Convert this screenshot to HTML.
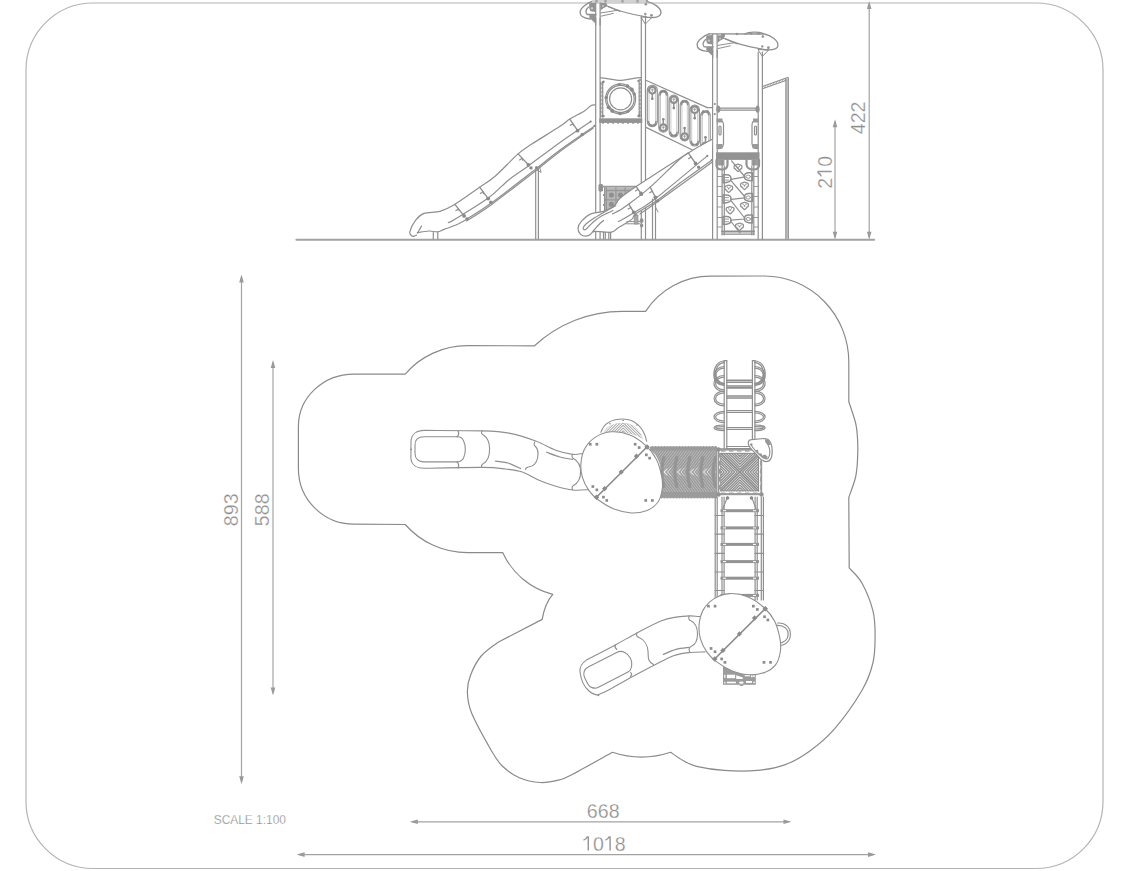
<!DOCTYPE html>
<html><head><meta charset="utf-8"><style>
html,body{margin:0;padding:0;background:#fff;width:1134px;height:871px;overflow:hidden}
svg{display:block}
text{font-family:"Liberation Sans",sans-serif}
</style></head><body>
<svg width="1134" height="871" viewBox="0 0 1134 871">
<g fill="none" stroke="#8f8f8f" stroke-width="1.2" stroke-linecap="round" stroke-linejoin="round">
<rect x="26" y="3" width="1077" height="865.5" rx="67" ry="67" stroke="#b4b4b4"/>
<path d="M298.4 426.4 A55.5 52.3 0 0 1 353.9 374.1 L405.2 374.1 A82 82 0 0 1 467.2 345.7 L534.5 345.8 A129 129 0 0 1 622.3 311.4 L645.6 311.4 A77.4 77.4 0 0 1 710.5 276.2 L764.4 276 A84.5 86 0 0 1 848.8 362 L848.8 401.7  C849.9 405.2 854.1 416.6 855.6 423 C857.1 429.4 857.3 434.2 857.6 440 C857.9 445.8 857.9 451.8 857.6 458 C857.3 464.2 857.1 470.4 855.6 477 C854.1 483.6 849.9 494.1 848.8 497.5 L849.2 567.9 C851.3 570.4 858 575.9 861.9 583 C865.8 590.1 870.7 601.9 872.9 610.6 C875.1 619.3 875.1 626.7 875.1 635.4 C875.1 644.1 875.1 653.8 872.9 663 C870.7 672.2 868.3 679.5 861.9 690.5 C855.5 701.5 843 719 834.3 729.1 C825.6 739.2 817.8 745.2 809.5 751.2 C801.2 757.2 793.4 761.7 784.7 764.9 C776 768.1 767.3 769.5 757.2 770.4 C747.1 771.3 734.2 771.1 724.1 770.4 C714 769.7 703.4 767.9 696.5 766.3 C689.6 764.6 687.3 762.8 683 760.5 C678.7 758.2 672.7 753.7 670.6 752.3 Q641.5 762 612.4 752.3 C605.7 756 581 769.9 572.2 774.5 C563.4 779.1 564.8 778.5 559.5 779.8 C554.2 781.1 547.1 782.9 540.4 782.5 C533.7 782.1 525.6 780.5 519.3 777.7 C512.9 775 506.9 770.4 502.3 766 C497.7 761.6 496.8 760 491.7 751.2 C486.6 742.4 475.7 723 471.6 713.1 C467.6 703.2 467.6 698.4 467.4 692 C467.2 685.6 468.3 681 470.6 675 C472.9 669 476.6 661.5 481.2 656 C485.8 650.5 495.3 644.5 498.1 642.2 L542.2 619.4 Q545 603 552.8 594.4 A75 75 0 0 1 502.8 552.7 L467.5 552.7 A83 83 0 0 1 405.2 524.5 L353.9 524.2 A55.5 55.5 0 0 1 298.4 468.6 Z" stroke="#8a8a8a"/>
<line x1="241.5" y1="277.5" x2="241.5" y2="781.2" stroke="#a3a3a3"/>
<path d="M241.5 274.5 L243.8 282.5 L239.2 282.5 Z" fill="#9a9a9a" stroke="none"/>
<path d="M241.5 784.2 L239.2 776.2 L243.8 776.2 Z" fill="#9a9a9a" stroke="none"/>
<line x1="273" y1="362.9" x2="273" y2="692.4" stroke="#a3a3a3"/>
<path d="M273 359.9 L275.3 367.9 L270.7 367.9 Z" fill="#9a9a9a" stroke="none"/>
<path d="M273 695.4 L270.7 687.4 L275.3 687.4 Z" fill="#9a9a9a" stroke="none"/>
<line x1="412.8" y1="821.8" x2="788.5" y2="821.8" stroke="#a3a3a3"/>
<path d="M409.8 821.8 L417.8 819.5 L417.8 824.1 Z" fill="#9a9a9a" stroke="none"/>
<path d="M791.5 821.8 L783.5 824.1 L783.5 819.5 Z" fill="#9a9a9a" stroke="none"/>
<line x1="299.6" y1="854.6" x2="873" y2="854.6" stroke="#a3a3a3"/>
<path d="M296.6 854.6 L304.6 852.3 L304.6 856.9 Z" fill="#9a9a9a" stroke="none"/>
<path d="M876 854.6 L868 856.9 L868 852.3 Z" fill="#9a9a9a" stroke="none"/>
<line x1="869.2" y1="4" x2="869.2" y2="236.7" stroke="#a3a3a3"/>
<path d="M869.2 1 L871.5 9 L866.9 9 Z" fill="#9a9a9a" stroke="none"/>
<path d="M869.2 239.7 L866.9 231.7 L871.5 231.7 Z" fill="#9a9a9a" stroke="none"/>
<line x1="835" y1="122.2" x2="835" y2="236.7" stroke="#a3a3a3"/>
<path d="M835 119.2 L837.3 127.2 L832.7 127.2 Z" fill="#9a9a9a" stroke="none"/>
<path d="M835 239.7 L832.7 231.7 L837.3 231.7 Z" fill="#9a9a9a" stroke="none"/>
<text x="603.2" y="817.9" font-size="19.6" fill="#8c8c8c" stroke="#fff" stroke-width="0.3" text-anchor="middle">668</text>
<path d="M588.3 850.6 l0 -13.6 l-1.2 0 c-0.6 1.6 -1.8 2.6 -3.6 3.1" fill="none" stroke="#969696" stroke-width="1.45" stroke-linecap="butt" stroke-linejoin="round"/>
<text x="593" y="850.6" font-size="19.6" fill="#8c8c8c" stroke="#fff" stroke-width="0.3">0</text>
<path d="M610.1 850.6 l0 -13.6 l-1.2 0 c-0.6 1.6 -1.8 2.6 -3.6 3.1" fill="none" stroke="#969696" stroke-width="1.45" stroke-linecap="butt" stroke-linejoin="round"/>
<text x="614.8" y="850.6" font-size="19.6" fill="#8c8c8c" stroke="#fff" stroke-width="0.3">8</text>
<text x="0" y="0" font-size="19.6" fill="#8c8c8c" stroke="#fff" stroke-width="0.3" text-anchor="middle" transform="translate(237.7 509.8) rotate(-90)">893</text>
<text x="0" y="0" font-size="19.6" fill="#8c8c8c" stroke="#fff" stroke-width="0.3" text-anchor="middle" transform="translate(268.8 509.8) rotate(-90)">588</text>
<text x="0" y="0" font-size="19.6" fill="#8c8c8c" stroke="#fff" stroke-width="0.3" text-anchor="middle" transform="translate(865.4 117.9) rotate(-90)">422</text>
<g transform="translate(831.7 172.3) rotate(-90)"><text x="-16.4" y="0" font-size="19.6" fill="#8c8c8c" stroke="#fff" stroke-width="0.3">2</text><path d="M0.75 0 l0 -13.6 l-1.2 0 c-0.6 1.6 -1.8 2.6 -3.6 3.1" fill="none" stroke="#969696" stroke-width="1.45" stroke-linecap="butt" stroke-linejoin="round"/><text x="5.5" y="0" font-size="19.6" fill="#8c8c8c" stroke="#fff" stroke-width="0.3">0</text></g>
<text x="213.7" y="823.9" font-size="12.2" fill="#8a8a8a" stroke="#fff" stroke-width="0.25" textLength="72.3" lengthAdjust="spacingAndGlyphs">SCALE 1:100</text>
<line x1="296.4" y1="239.8" x2="874.2" y2="239.8" stroke="#a2a2a2" stroke-width="2"/>
<rect x="592" y="0" width="56" height="2.6" fill="#d6d6d6" stroke="none"/>
<rect x="700" y="0" width="0" height="0" fill="#919191" stroke="none"/>
<line x1="595.7" y1="18" x2="595.7" y2="239"/>
<line x1="600.1" y1="18" x2="600.1" y2="239"/>
<line x1="641.3" y1="16" x2="641.3" y2="239"/>
<line x1="645.5" y1="16" x2="645.5" y2="239"/>
<g transform="translate(0 0)"><path d="M592.1 1.4 L647.4 1.6 C654 3 660.9 8 660.9 12.5 C660.9 16.6 656 18.3 647.4 17.1 C638 15.5 630 13.8 622 11.5 C617 10 612 8 608 6.3" stroke-width="1.3"/><path d="M592.1 1.4 C587 3 580 8.5 580.1 12.3 C580 16 583 18.3 590.3 19" stroke-width="1.3"/><path d="M588.6 7.1 C586 9.5 585 12 587.2 14.5 L596 14.5" stroke-width="1.3"/><path d="M600.6 13 L618 10.2 M600.9 16.2 L613.3 13.4 M608 6.5 L620 11.5" stroke-width="1"/><path d="M589.5 3 L595.3 2.6 L595.3 12 L590.5 11.3 C589 9 588.8 6 589.5 3 Z" fill="#939393" stroke="none"/><path d="M589.3 14.6 L595.3 14.6 L595.3 23.4 C593.5 21.5 591 19.5 589.3 17.5 Z" fill="#939393" stroke="none"/><path d="M600.5 2.8 L606.5 3.2 L607.8 6.2 C605 7 602.5 8.5 600.5 10.5 Z" fill="#939393" stroke="none"/><circle cx="592" cy="8.2" r="1.2" fill="#c8c8c8" stroke="none"/><circle cx="603" cy="6" r="1" fill="#c8c8c8" stroke="none"/><path d="M595.7 2 L595.7 25 M600.1 2 L600.1 25" stroke-width="1.2"/><path d="M641.3 17 L651.5 17.8 L645.6 23.8 Z" stroke-width="1"/><circle cx="645.3" cy="14" r="1.2" fill="#939393" stroke="none"/><circle cx="651.4" cy="15.3" r="1.4" fill="#939393" stroke="none"/><circle cx="645.8" cy="4.2" r="1.3" fill="#939393" stroke="none"/><rect x="592" y="0" width="56" height="2.4" fill="#d2d2d2" stroke="none"/><rect x="595.4" y="0" width="2.2" height="2.6" fill="#a0a0a0" stroke="none"/><rect x="604.4" y="0" width="2.2" height="2.6" fill="#a0a0a0" stroke="none"/><rect x="621.4" y="0" width="2.2" height="2.6" fill="#a0a0a0" stroke="none"/><rect x="636.4" y="0" width="2.2" height="2.6" fill="#a0a0a0" stroke="none"/><rect x="645.9" y="0" width="2.2" height="2.6" fill="#a0a0a0" stroke="none"/></g>
<path d="M600.3 77.9 C607 78 614 80.3 621 80.3 C628 80.3 634 77.6 641 77.6"/>
<line x1="600.7" y1="82" x2="600.7" y2="117"/>
<line x1="602.7" y1="82" x2="602.7" y2="117"/>
<line x1="639.2" y1="82" x2="639.2" y2="117"/>
<line x1="641.3" y1="82" x2="641.3" y2="117"/>
<line x1="600.7" y1="84" x2="602.7" y2="84"/>
<line x1="639.2" y1="84" x2="641.3" y2="84"/>
<line x1="600.7" y1="88" x2="602.7" y2="88"/>
<line x1="639.2" y1="88" x2="641.3" y2="88"/>
<line x1="600.7" y1="92" x2="602.7" y2="92"/>
<line x1="639.2" y1="92" x2="641.3" y2="92"/>
<line x1="600.7" y1="96" x2="602.7" y2="96"/>
<line x1="639.2" y1="96" x2="641.3" y2="96"/>
<line x1="600.7" y1="100" x2="602.7" y2="100"/>
<line x1="639.2" y1="100" x2="641.3" y2="100"/>
<line x1="600.7" y1="104" x2="602.7" y2="104"/>
<line x1="639.2" y1="104" x2="641.3" y2="104"/>
<line x1="600.7" y1="108" x2="602.7" y2="108"/>
<line x1="639.2" y1="108" x2="641.3" y2="108"/>
<line x1="600.7" y1="112" x2="602.7" y2="112"/>
<line x1="639.2" y1="112" x2="641.3" y2="112"/>
<line x1="600.7" y1="116" x2="602.7" y2="116"/>
<line x1="639.2" y1="116" x2="641.3" y2="116"/>
<circle cx="620.6" cy="98.9" r="15" />
<circle cx="620.6" cy="98.9" r="13.6" />
<circle cx="620.6" cy="98.9" r="11" />
<circle cx="631.8" cy="89.5" r="1.9" fill="#8a8a8a" stroke="none"/>
<circle cx="627.5" cy="86" r="1.7" fill="#8a8a8a" stroke="none"/>
<circle cx="619.3" cy="84.4" r="1.5" fill="#8a8a8a" stroke="none"/>
<circle cx="606.1" cy="97.6" r="1.7" fill="#8a8a8a" stroke="none"/>
<circle cx="608.6" cy="107.3" r="1.9" fill="#8a8a8a" stroke="none"/>
<circle cx="612.2" cy="110.9" r="1.9" fill="#8a8a8a" stroke="none"/>
<circle cx="620.1" cy="113.5" r="1.7" fill="#8a8a8a" stroke="none"/>
<circle cx="627.9" cy="111.5" r="1.4" fill="#8a8a8a" stroke="none"/>
<circle cx="634.3" cy="93.9" r="1.5" fill="#8a8a8a" stroke="none"/>
<circle cx="602.5" cy="82.5" r="1" fill="#8a8a8a" stroke="none"/>
<circle cx="640" cy="80" r="1" fill="#8a8a8a" stroke="none"/>
<circle cx="602.5" cy="116.5" r="1" fill="#8a8a8a" stroke="none"/>
<circle cx="639.5" cy="114.5" r="1" fill="#8a8a8a" stroke="none"/>
<rect x="599.3" y="118.3" width="43" height="4.6" fill="#939393" stroke="none"/>
<clipPath id="net"><path d="M604.3 187.5 L636 187.5 L616 205 L611 210.5 L604.3 210.5 Z"/></clipPath>
<g clip-path="url(#net)"><rect x="604" y="187" width="33" height="24" fill="#b9b9b9" stroke="none"/><circle cx="611.4" cy="195" r="2.6" fill="#909090" stroke="none"/><circle cx="620.4" cy="195" r="2.6" fill="#909090" stroke="none"/><circle cx="629.2" cy="194" r="2.6" fill="#909090" stroke="none"/><circle cx="611.4" cy="204.3" r="2.6" fill="#909090" stroke="none"/><path d="M604 199.9 L637 199.9 M615.9 187 L615.9 211 M625.2 187 L625.2 211 M606.5 190.5 L637 190.5" stroke="#999" stroke-width="1.3"/></g>
<path d="M598.5 185 C598.5 183.5 603 183.5 603 185 L603 190.5 C603 192 598.5 192 598.5 190.5 Z" fill="#919191" stroke="none"/>
<line x1="602.9" y1="186.6" x2="635.8" y2="186.6" stroke="#9a9a9a" stroke-width="1.8"/>
<line x1="604.6" y1="187.5" x2="604.6" y2="210.5" stroke-width="1.1"/>
<line x1="606.4" y1="187.5" x2="606.4" y2="210.5" stroke-width="0.9"/>
<circle cx="603.8" cy="195" r="0.9" fill="#8a8a8a" stroke="none"/>
<circle cx="603.8" cy="205" r="0.9" fill="#8a8a8a" stroke="none"/>
<line x1="646.4" y1="80.5" x2="707.3" y2="107.6"/>
<line x1="707.3" y1="107.6" x2="712.6" y2="107.6"/>
<line x1="646.5" y1="127.6" x2="692" y2="149.8"/>
<path d="M647.3 90.2 L647.3 121.6 A5 5 0 0 0 657.3 121.6 L657.3 90.2 A5 5 0 0 0 647.3 90.2 Z" stroke-width="1.1"/>
<line x1="649" y1="91.2" x2="649" y2="120.6" stroke="#b4b4b4" stroke-width="0.7"/>
<line x1="655.6" y1="91.2" x2="655.6" y2="120.6" stroke="#b4b4b4" stroke-width="0.7"/>
<circle cx="652.3" cy="90.2" r="3.3" stroke-width="2.2"/>
<path d="M652.3 88.9 l0 2.6 M651.2 89.8 l2.2 0" stroke="#9a9a9a" stroke-width="0.9"/>
<line x1="652.3" y1="94.2" x2="652.3" y2="98.7" stroke-width="1.5"/>
<circle cx="652.3" cy="98.7" r="1.3" fill="#8a8a8a" stroke="none"/>
<path d="M648.6 121.6 A3.7 3.7 0 0 0 656 121.6" stroke-width="1.7"/>
<circle cx="649.8" cy="125.1" r="1.2" fill="#8a8a8a" stroke="none"/>
<circle cx="654.8" cy="125.1" r="1.2" fill="#8a8a8a" stroke="none"/>
<path d="M658.8 94.9 L658.8 127.7 A4.5 4.5 0 0 0 667.8 127.7 L667.8 94.9 A4.5 4.5 0 0 0 658.8 94.9 Z" stroke-width="1.1"/>
<line x1="660.5" y1="95.9" x2="660.5" y2="126.7" stroke="#b4b4b4" stroke-width="0.7"/>
<line x1="666.1" y1="95.9" x2="666.1" y2="126.7" stroke="#b4b4b4" stroke-width="0.7"/>
<circle cx="663.3" cy="127.7" r="3.3" stroke-width="2.2"/>
<path d="M663.3 126.4 l0 2.6 M662.2 127.3 l2.2 0" stroke="#9a9a9a" stroke-width="0.9"/>
<line x1="663.3" y1="123.7" x2="663.3" y2="119.2" stroke-width="1.5"/>
<circle cx="663.3" cy="119.2" r="1.3" fill="#8a8a8a" stroke="none"/>
<path d="M660.1 94.9 A3.2 3.2 0 0 1 666.5 94.9" stroke-width="1.7"/>
<circle cx="661.3" cy="91.9" r="1.2" fill="#8a8a8a" stroke="none"/>
<circle cx="665.3" cy="91.9" r="1.2" fill="#8a8a8a" stroke="none"/>
<path d="M669.2 99.6 L669.2 132.3 A4.6 4.6 0 0 0 678.4 132.3 L678.4 99.6 A4.6 4.6 0 0 0 669.2 99.6 Z" stroke-width="1.1"/>
<line x1="670.9" y1="100.6" x2="670.9" y2="131.3" stroke="#b4b4b4" stroke-width="0.7"/>
<line x1="676.7" y1="100.6" x2="676.7" y2="131.3" stroke="#b4b4b4" stroke-width="0.7"/>
<circle cx="673.8" cy="99.6" r="3.3" stroke-width="2.2"/>
<path d="M673.8 98.3 l0 2.6 M672.7 99.2 l2.2 0" stroke="#9a9a9a" stroke-width="0.9"/>
<line x1="673.8" y1="103.6" x2="673.8" y2="108.1" stroke-width="1.5"/>
<circle cx="673.8" cy="108.1" r="1.3" fill="#8a8a8a" stroke="none"/>
<path d="M670.5 132.3 A3.3 3.3 0 0 0 677.1 132.3" stroke-width="1.7"/>
<circle cx="671.7" cy="135.4" r="1.2" fill="#8a8a8a" stroke="none"/>
<circle cx="675.9" cy="135.4" r="1.2" fill="#8a8a8a" stroke="none"/>
<path d="M680.2 104.7 L680.2 136.6 A4.4 4.4 0 0 0 689 136.6 L689 104.7 A4.4 4.4 0 0 0 680.2 104.7 Z" stroke-width="1.1"/>
<line x1="681.9" y1="105.7" x2="681.9" y2="135.6" stroke="#b4b4b4" stroke-width="0.7"/>
<line x1="687.3" y1="105.7" x2="687.3" y2="135.6" stroke="#b4b4b4" stroke-width="0.7"/>
<circle cx="684.6" cy="136.6" r="3.3" stroke-width="2.2"/>
<path d="M684.6 135.3 l0 2.6 M683.5 136.2 l2.2 0" stroke="#9a9a9a" stroke-width="0.9"/>
<line x1="684.6" y1="132.6" x2="684.6" y2="128.1" stroke-width="1.5"/>
<circle cx="684.6" cy="128.1" r="1.3" fill="#8a8a8a" stroke="none"/>
<path d="M681.5 104.7 A3.1 3.1 0 0 1 687.7 104.7" stroke-width="1.7"/>
<circle cx="682.7" cy="101.8" r="1.2" fill="#8a8a8a" stroke="none"/>
<circle cx="686.5" cy="101.8" r="1.2" fill="#8a8a8a" stroke="none"/>
<path d="M690 109.7 L690 141.3 A4.7 4.7 0 0 0 699.4 141.3 L699.4 109.7 A4.7 4.7 0 0 0 690 109.7 Z" stroke-width="1.1"/>
<line x1="691.7" y1="110.7" x2="691.7" y2="140.3" stroke="#b4b4b4" stroke-width="0.7"/>
<line x1="697.7" y1="110.7" x2="697.7" y2="140.3" stroke="#b4b4b4" stroke-width="0.7"/>
<circle cx="694.7" cy="109.7" r="3.3" stroke-width="2.2"/>
<path d="M694.7 108.4 l0 2.6 M693.6 109.3 l2.2 0" stroke="#9a9a9a" stroke-width="0.9"/>
<line x1="694.7" y1="113.7" x2="694.7" y2="118.2" stroke-width="1.5"/>
<circle cx="694.7" cy="118.2" r="1.3" fill="#8a8a8a" stroke="none"/>
<path d="M691.3 141.3 A3.4 3.4 0 0 0 698.1 141.3" stroke-width="1.7"/>
<circle cx="692.5" cy="144.5" r="1.2" fill="#8a8a8a" stroke="none"/>
<circle cx="696.9" cy="144.5" r="1.2" fill="#8a8a8a" stroke="none"/>
<path d="M700.7 114.8 L700.7 145.8 A4.8 4.8 0 0 0 710.2 145.8 L710.2 114.8 A4.8 4.8 0 0 0 700.7 114.8 Z" stroke-width="1.1"/>
<line x1="702.4" y1="115.8" x2="702.4" y2="144.8" stroke="#b4b4b4" stroke-width="0.7"/>
<line x1="708.5" y1="115.8" x2="708.5" y2="144.8" stroke="#b4b4b4" stroke-width="0.7"/>
<circle cx="705.5" cy="145.8" r="3.3" stroke-width="2.2"/>
<path d="M705.5 144.4 l0 2.6 M704.4 145.3 l2.2 0" stroke="#9a9a9a" stroke-width="0.9"/>
<line x1="705.5" y1="141.8" x2="705.5" y2="137.2" stroke-width="1.5"/>
<circle cx="705.5" cy="137.2" r="1.3" fill="#8a8a8a" stroke="none"/>
<path d="M702 114.8 A3.5 3.5 0 0 1 708.9 114.8" stroke-width="1.7"/>
<circle cx="703.2" cy="111.5" r="1.2" fill="#8a8a8a" stroke="none"/>
<circle cx="707.7" cy="111.5" r="1.2" fill="#8a8a8a" stroke="none"/>
<line x1="712.6" y1="50" x2="712.6" y2="239"/>
<line x1="717.2" y1="50" x2="717.2" y2="239"/>
<line x1="758.2" y1="52" x2="758.2" y2="239"/>
<line x1="762.4" y1="52" x2="762.4" y2="239"/>
<g transform="translate(117 32.4)"><path d="M592.1 1.4 L647.4 1.6 C654 3 660.9 8 660.9 12.5 C660.9 16.6 656 18.3 647.4 17.1 C638 15.5 630 13.8 622 11.5 C617 10 612 8 608 6.3" stroke-width="1.3"/><path d="M592.1 1.4 C587 3 580 8.5 580.1 12.3 C580 16 583 18.3 590.3 19" stroke-width="1.3"/><path d="M588.6 7.1 C586 9.5 585 12 587.2 14.5 L596 14.5" stroke-width="1.3"/><path d="M600.6 13 L618 10.2 M600.9 16.2 L613.3 13.4 M608 6.5 L620 11.5" stroke-width="1"/><path d="M589.5 3 L595.3 2.6 L595.3 12 L590.5 11.3 C589 9 588.8 6 589.5 3 Z" fill="#939393" stroke="none"/><path d="M589.3 14.6 L595.3 14.6 L595.3 23.4 C593.5 21.5 591 19.5 589.3 17.5 Z" fill="#939393" stroke="none"/><path d="M600.5 2.8 L606.5 3.2 L607.8 6.2 C605 7 602.5 8.5 600.5 10.5 Z" fill="#939393" stroke="none"/><circle cx="592" cy="8.2" r="1.2" fill="#c8c8c8" stroke="none"/><circle cx="603" cy="6" r="1" fill="#c8c8c8" stroke="none"/><path d="M595.7 2 L595.7 25 M600.1 2 L600.1 25" stroke-width="1.2"/><path d="M641.3 17 L651.5 17.8 L645.6 23.8 Z" stroke-width="1"/><circle cx="645.3" cy="14" r="1.2" fill="#939393" stroke="none"/><circle cx="651.4" cy="15.3" r="1.4" fill="#939393" stroke="none"/><circle cx="645.8" cy="4.2" r="1.3" fill="#939393" stroke="none"/><path d="M628 1.5 C632 -0.8 641 -0.8 646 1" stroke-width="1.3"/><circle cx="634" cy="0.8" r="1.3" fill="#939393" stroke="none"/><circle cx="641.5" cy="1" r="1.3" fill="#939393" stroke="none"/><circle cx="620" cy="1.6" r="1.2" fill="#939393" stroke="none"/><rect x="604" y="1.4" width="4" height="3" fill="#939393" stroke="none"/></g>
<line x1="717.5" y1="108.2" x2="758.2" y2="108.2"/>
<line x1="717.5" y1="110.2" x2="758.2" y2="110.2"/>
<circle cx="718.5" cy="109.2" r="1.7" fill="#8a8a8a" stroke="none"/>
<circle cx="757.5" cy="109.2" r="1.7" fill="#8a8a8a" stroke="none"/>
<path d="M717.5 120 C721 119 723.5 121 723.5 125 L723.5 144 C723 148 720 149 717.5 148.5"/>
<rect x="719" y="126" width="2" height="9" rx="1"/>
<path d="M758 120 C754.5 119 752 121 752 125 L752 144 C752.5 148 755.5 149 758 148.5"/>
<rect x="754.5" y="126" width="2" height="9" rx="1"/>
<rect x="716.5" y="118.5" width="6" height="4" fill="#9a9a9a" stroke="none"/>
<rect x="753" y="118.5" width="5.5" height="4" fill="#9a9a9a" stroke="none"/>
<rect x="716.5" y="144" width="6" height="4.5" fill="#9a9a9a" stroke="none"/>
<rect x="752.5" y="144" width="6" height="4.5" fill="#9a9a9a" stroke="none"/>
<rect x="716" y="152.3" width="43.5" height="7.6" fill="#939393" stroke="none"/>
<rect x="716.5" y="160" width="8" height="5.5" fill="#9c9c9c" stroke="none"/>
<rect x="751.5" y="160" width="8" height="5.5" fill="#9c9c9c" stroke="none"/>
<line x1="722.1" y1="160" x2="722.1" y2="234.8"/>
<line x1="724.3" y1="166" x2="724.3" y2="234.8"/>
<line x1="751.8" y1="166" x2="751.8" y2="234.8"/>
<line x1="753.8" y1="160" x2="753.8" y2="234.8"/>
<line x1="722" y1="231.5" x2="754" y2="231.5" stroke-width="1.8"/>
<line x1="722" y1="234.2" x2="754" y2="234.2"/>
<path d="M716.5 160 L716.5 165 C716.5 168.5 719 169.5 722 169.5 C725.5 169.5 727.5 168 727.5 164.5 L727.5 160" stroke="#939393" stroke-width="2.2"/>
<path d="M759 160 L759 165 C759 168.5 756.5 169.5 753.5 169.5 C750 169.5 746.5 168 746.5 164.5 L746.5 160" stroke="#939393" stroke-width="2.2"/>
<path d="M731.6 160.8 L745 177 M731 179.4 L745 176.9 M731 180.7 L745 197 M731 199.4 L745 197.8 M731 200.7 L745 218.5 M731 220.2 L745 219 M731 221.5 L740 233" stroke-width="1.2"/>
<path d="M723 174.8 L726.5 174.8 C729.5 174.8 731 176.8 731 178.8 C731 180.8 729.5 182.8 723 182.8 Z" stroke-width="1.5"/>
<line x1="724" y1="177.5" x2="728.5" y2="177.5" stroke-width="0.9"/>
<line x1="724" y1="180.1" x2="728.5" y2="180.1" stroke-width="0.9"/>
<path d="M723 194.9 L726.5 194.9 C729.5 194.9 731 196.9 731 198.9 C731 200.9 729.5 202.9 723 202.9 Z" stroke-width="1.5"/>
<line x1="724" y1="197.6" x2="728.5" y2="197.6" stroke-width="0.9"/>
<line x1="724" y1="200.2" x2="728.5" y2="200.2" stroke-width="0.9"/>
<path d="M723 216.4 L726.5 216.4 C729.5 216.4 731 218.4 731 220.4 C731 222.4 729.5 224.4 723 224.4 Z" stroke-width="1.5"/>
<line x1="724" y1="219.1" x2="728.5" y2="219.1" stroke-width="0.9"/>
<line x1="724" y1="221.7" x2="728.5" y2="221.7" stroke-width="0.9"/>
<path d="M752.3 172.7 L748.8 172.7 C745.8 172.7 744.3 174.7 744.3 176.7 C744.3 178.7 745.8 180.7 752.3 180.7 Z" stroke-width="1.5"/>
<ellipse cx="748.3" cy="176.7" rx="2.2" ry="1.6" stroke-width="0.9"/>
<path d="M752.3 193.5 L748.8 193.5 C745.8 193.5 744.3 195.5 744.3 197.5 C744.3 199.5 745.8 201.5 752.3 201.5 Z" stroke-width="1.5"/>
<ellipse cx="748.3" cy="197.5" rx="2.2" ry="1.6" stroke-width="0.9"/>
<path d="M752.3 215 L748.8 215 C745.8 215 744.3 217 744.3 219 C744.3 221 745.8 223 752.3 223 Z" stroke-width="1.5"/>
<ellipse cx="748.3" cy="219" rx="2.2" ry="1.6" stroke-width="0.9"/>
<path d="M738 171.6 C736.5 171 736 169.5 735.4 169 C733.5 168.5 733.5 164.5 736 165 C737 164.2 739 164.2 740 165 C742.5 164.5 742.5 168.5 740.6 169 C740 169.5 739.5 171 738 171.6 Z" stroke-width="1.3"/>
<circle cx="738" cy="167.7" r="0.9" fill="#8a8a8a" stroke="none"/>
<circle cx="736.6" cy="166.4" r="0.6" fill="#8a8a8a" stroke="none"/>
<circle cx="739.4" cy="166.4" r="0.6" fill="#8a8a8a" stroke="none"/>
<path d="M744.5 189.6 C743 189 742.5 187.5 741.9 187 C740 186.5 740 182.5 742.5 183 C743.5 182.2 745.5 182.2 746.5 183 C749 182.5 749 186.5 747.1 187 C746.5 187.5 746 189 744.5 189.6 Z" stroke-width="1.3"/>
<circle cx="744.5" cy="185.7" r="0.9" fill="#8a8a8a" stroke="none"/>
<circle cx="743.1" cy="184.4" r="0.6" fill="#8a8a8a" stroke="none"/>
<circle cx="745.9" cy="184.4" r="0.6" fill="#8a8a8a" stroke="none"/>
<path d="M728.7 192.5 C727.2 191.9 726.7 190.4 726.1 189.9 C724.2 189.4 724.2 185.4 726.7 185.9 C727.7 185.1 729.7 185.1 730.7 185.9 C733.2 185.4 733.2 189.4 731.3 189.9 C730.7 190.4 730.2 191.9 728.7 192.5 Z" stroke-width="1.3"/>
<circle cx="728.7" cy="188.6" r="0.9" fill="#8a8a8a" stroke="none"/>
<circle cx="727.3" cy="187.3" r="0.6" fill="#8a8a8a" stroke="none"/>
<circle cx="730.1" cy="187.3" r="0.6" fill="#8a8a8a" stroke="none"/>
<path d="M744.5 209.7 C743 209.1 742.5 207.6 741.9 207.1 C740 206.6 740 202.6 742.5 203.1 C743.5 202.3 745.5 202.3 746.5 203.1 C749 202.6 749 206.6 747.1 207.1 C746.5 207.6 746 209.1 744.5 209.7 Z" stroke-width="1.3"/>
<circle cx="744.5" cy="205.8" r="0.9" fill="#8a8a8a" stroke="none"/>
<circle cx="743.1" cy="204.5" r="0.6" fill="#8a8a8a" stroke="none"/>
<circle cx="745.9" cy="204.5" r="0.6" fill="#8a8a8a" stroke="none"/>
<path d="M730.1 214 C728.6 213.4 728.1 211.9 727.5 211.4 C725.6 210.9 725.6 206.9 728.1 207.4 C729.1 206.6 731.1 206.6 732.1 207.4 C734.6 206.9 734.6 210.9 732.7 211.4 C732.1 211.9 731.6 213.4 730.1 214 Z" stroke-width="1.3"/>
<circle cx="730.1" cy="210.1" r="0.9" fill="#8a8a8a" stroke="none"/>
<circle cx="728.7" cy="208.8" r="0.6" fill="#8a8a8a" stroke="none"/>
<circle cx="731.5" cy="208.8" r="0.6" fill="#8a8a8a" stroke="none"/>
<path d="M739.5 230.5 C738 229.9 737.5 228.4 736.9 227.9 C735 227.4 735 223.4 737.5 223.9 C738.5 223.1 740.5 223.1 741.5 223.9 C744 223.4 744 227.4 742.1 227.9 C741.5 228.4 741 229.9 739.5 230.5 Z" stroke-width="1.3"/>
<circle cx="739.5" cy="226.6" r="0.9" fill="#8a8a8a" stroke="none"/>
<circle cx="738.1" cy="225.3" r="0.6" fill="#8a8a8a" stroke="none"/>
<circle cx="740.9" cy="225.3" r="0.6" fill="#8a8a8a" stroke="none"/>
<line x1="717.5" y1="176.5" x2="722" y2="176.5" stroke-width="0.9"/>
<line x1="753.8" y1="176.5" x2="758" y2="176.5" stroke-width="0.9"/>
<line x1="717.5" y1="186.5" x2="722" y2="186.5" stroke-width="0.9"/>
<line x1="753.8" y1="186.5" x2="758" y2="186.5" stroke-width="0.9"/>
<line x1="717.5" y1="196.5" x2="722" y2="196.5" stroke-width="0.9"/>
<line x1="753.8" y1="196.5" x2="758" y2="196.5" stroke-width="0.9"/>
<line x1="717.5" y1="207" x2="722" y2="207" stroke-width="0.9"/>
<line x1="753.8" y1="207" x2="758" y2="207" stroke-width="0.9"/>
<line x1="717.5" y1="217.5" x2="722" y2="217.5" stroke-width="0.9"/>
<line x1="753.8" y1="217.5" x2="758" y2="217.5" stroke-width="0.9"/>
<line x1="717.5" y1="227" x2="722" y2="227" stroke-width="0.9"/>
<line x1="753.8" y1="227" x2="758" y2="227" stroke-width="0.9"/>
<line x1="762.4" y1="86.5" x2="787.7" y2="77.5"/>
<line x1="762.4" y1="88.8" x2="786.5" y2="80.2"/>
<rect x="785.9" y="78.8" width="2.4" height="160" fill="#cfcfcf" stroke="none"/>
<line x1="785.9" y1="79" x2="785.9" y2="239"/>
<line x1="788.3" y1="77.8" x2="788.3" y2="239"/>
<line x1="764.5" y1="87.6" x2="765.7" y2="85.3" stroke-width="0.7"/>
<line x1="767.4" y1="86.5" x2="768.6" y2="84.3" stroke-width="0.7"/>
<line x1="770.3" y1="85.5" x2="771.5" y2="83.3" stroke-width="0.7"/>
<line x1="773.2" y1="84.5" x2="774.4" y2="82.2" stroke-width="0.7"/>
<line x1="776.1" y1="83.4" x2="777.3" y2="81.2" stroke-width="0.7"/>
<line x1="779" y1="82.4" x2="780.2" y2="80.2" stroke-width="0.7"/>
<line x1="781.9" y1="81.4" x2="783.1" y2="79.1" stroke-width="0.7"/>
<line x1="784.8" y1="80.3" x2="786" y2="78.1" stroke-width="0.7"/>
<path d="M595.5 105 C594.8 105.1 593.1 104.5 591.2 105.5 C589.4 106.5 588 108.6 584.4 110.9 C580.8 113.2 573.9 116.5 569.8 119.1 C565.7 121.7 566.3 122.1 560 126.3 C553.7 130.5 538.8 139.5 531.8 144.1 C524.8 148.7 524.2 148.5 518.1 153.9 C512 159.3 501.6 170.7 495.1 176.3 C488.6 181.9 485.9 182.9 479 187.7 C472.1 192.5 460.3 201.1 453.8 205 C447.3 208.9 445 209.9 440 211.3 C435 212.7 428.1 211.9 424 213.4 C419.9 214.9 418.1 217 415.7 220.1 C413.3 223.2 410.4 229.2 409.8 231.9 C409.2 234.6 411.2 235.6 412.3 236.2 C413.4 236.8 415.8 235.4 416.5 235.2"/>
<path d="M421.5 226 C421.1 226.8 419.7 229.3 419 230.5 C418.3 231.7 417.8 232.6 417.5 233"/>
<path d="M417.3 232.7 C419.2 232.4 425.6 231.1 429 231 C432.4 230.9 435 232.2 437.5 231.9 C440 231.6 440.8 230.7 444.2 229.4 C447.6 228.1 453.7 226.1 457.6 224.3 C461.5 222.5 461.9 222.3 467.6 218.7 C473.3 215.1 480.4 210.9 491.7 202.7 C503 194.5 523.9 178.2 535.3 169.4 C546.7 160.6 550.1 157.2 560 149.9 C569.9 142.7 588.8 129.9 594.6 125.9"/>
<path d="M466.6 220.9 C470.8 218.2 480.2 212.7 491.7 204.4 C503.1 196.1 523.9 179.8 535.3 171 C546.7 162.2 550.4 158.5 560 151.4 C569.6 144.3 587.5 132.1 593 128.2"/>
<path d="M448.3 222.6 C449.4 222.1 448.2 223.4 454.9 219.3 C461.5 215.2 479.2 204.7 488.2 198.1 C497.2 191.5 502.2 185.1 508.9 179.7 C515.6 174.3 519.9 172.1 528.4 165.9 C536.9 159.7 549.6 149.8 560 142.4 C570.4 135 585.6 125 590.7 121.5"/>
<line x1="454.9" y1="204.4" x2="464.1" y2="215.9" stroke-width="1.35"/>
<circle cx="464.1" cy="215.9" r="1.9" fill="#8a8a8a" stroke="none"/>
<circle cx="467" cy="218.9" r="1.7" fill="#8a8a8a" stroke="none"/>
<line x1="456" y1="210.6" x2="458.6" y2="209" stroke-width="1.2"/>
<path d="M457.8 207.8 L460 210.8 L458.8 211.6 Z" fill="#8f8f8f" stroke="none"/>
<line x1="479.6" y1="187.2" x2="488.2" y2="198.6" stroke-width="1.35"/>
<circle cx="488.2" cy="198.6" r="1.9" fill="#8a8a8a" stroke="none"/>
<circle cx="490.8" cy="202.3" r="1.7" fill="#8a8a8a" stroke="none"/>
<line x1="480.4" y1="193.4" x2="483" y2="191.8" stroke-width="1.2"/>
<path d="M482.2 190.6 L484.4 193.6 L483.2 194.4 Z" fill="#8f8f8f" stroke="none"/>
<line x1="518.1" y1="153.9" x2="528.4" y2="164.8" stroke-width="1.35"/>
<circle cx="528.4" cy="164.8" r="1.9" fill="#8a8a8a" stroke="none"/>
<circle cx="531" cy="167.9" r="1.7" fill="#8a8a8a" stroke="none"/>
<line x1="519.6" y1="159.9" x2="522.2" y2="158.3" stroke-width="1.2"/>
<path d="M521.4 157.1 L523.6 160.1 L522.4 160.9 Z" fill="#8f8f8f" stroke="none"/>
<line x1="569.8" y1="119.1" x2="577.6" y2="130.7" stroke-width="1.35"/>
<circle cx="577.6" cy="130.7" r="1.9" fill="#8a8a8a" stroke="none"/>
<circle cx="582.2" cy="134.4" r="1.7" fill="#8a8a8a" stroke="none"/>
<line x1="570.3" y1="125.3" x2="572.9" y2="123.7" stroke-width="1.2"/>
<path d="M572.1 122.5 L574.3 125.5 L573.1 126.3 Z" fill="#8f8f8f" stroke="none"/>
<circle cx="590.7" cy="121.5" r="1.1" fill="#8a8a8a" stroke="none"/>
<circle cx="594.6" cy="125.9" r="1.1" fill="#8a8a8a" stroke="none"/>
<line x1="535.7" y1="169" x2="535.7" y2="239"/>
<line x1="538.4" y1="169" x2="538.4" y2="239"/>
<line x1="433.3" y1="232.5" x2="433.3" y2="239"/>
<line x1="437.8" y1="232.5" x2="437.8" y2="239"/>
<path d="M712.2 139.3 L688.3 152.9 L636.1 186.6 L620 198.3 L614.1 207 L603.5 211.4 L590.3 214.1 L581.5 221.1 L578 228.2 L580.6 234.4 L585.9 236.1 L594.7 231.3 L611.4 232.2 L617.6 228.2 L631.7 219.4 L635.6 213.9 L657.9 199.9 L711.7 162.4Z" fill="#fff" stroke="none"/>
<path d="M712.2 139.3 C708.2 141.6 701 145 688.3 152.9 C675.6 160.8 647.5 179 636.1 186.6 C624.7 194.2 623.4 195.4 620 198.3 C616.6 201.2 617.2 202.5 615.9 204 C614.6 205.5 614.1 206.3 612 207.5 C609.9 208.7 607.1 210.3 603.5 211.4 C599.9 212.5 594 212.5 590.3 214.1 C586.6 215.7 583.5 218.8 581.5 221.1 C579.5 223.4 578.1 226 578 228.2 C577.9 230.4 579.3 233.1 580.6 234.4 C581.9 235.7 584.2 236.1 585.9 236.1 C587.5 236.1 589.1 235.4 590.5 234.3 C591.9 233.2 593.1 231.1 594.5 229.5 C595.9 227.9 597.5 226 599 224.5 C600.5 223 602.8 221.2 603.5 220.5"/>
<path d="M615.7 205.8 C614.4 206.5 610.5 208.6 608 210 C605.5 211.4 603.6 212.5 600.9 214.1 C598.2 215.7 594.5 217.8 592 219.5 C589.5 221.2 587.5 222.7 586 224 C584.5 225.3 583.6 226.6 583.3 227.6 C583 228.6 583.5 229.6 584 229.8 C584.5 230 585.2 229.8 586.3 229 C587.4 228.2 588.8 226.3 590.4 224.8 C592 223.3 594.1 221.3 596 219.8 C597.9 218.3 599.7 217.1 601.5 216 C603.3 214.9 605.1 214.3 607 213.4 C608.9 212.5 612 211 613 210.5"/>
<path d="M688.3 152.9 C686.7 154.1 684.9 154.5 678.5 160.2 C672.1 165.9 658.5 179.8 650.2 187.1 C641.9 194.4 633.7 200.4 628.8 204.1 C623.9 207.8 623.7 207.8 621 209.5 C618.3 211.2 613.9 213.2 612.5 214"/>
<path d="M707.3 155.9 C698.9 162.8 668.3 188.5 657.1 197.3 C645.9 206.2 645.4 205.6 640 209 C634.6 212.4 628.6 215.9 625 218 C621.4 220.1 619.6 220.9 618.5 221.5"/>
<path d="M711.7 160.2 C706.4 164 689 176.4 680 183 C671 189.6 665.3 194.8 657.9 199.9 C650.5 205.1 640 210.7 635.6 213.9 C631.2 217.2 634.7 217 631.7 219.4 C628.7 221.8 621 226.1 617.6 228.2 C614.2 230.3 615.2 231.7 611.4 232.2 C607.6 232.7 597.7 231.3 594.7 231.3 C591.7 231.3 593.7 231.9 593.5 232"/>
<path d="M711.7 162.4 C702.7 168.9 669.9 193 657.9 201.6 C645.9 210.2 643 211.9 640 214"/>
<line x1="688.3" y1="152.9" x2="695.6" y2="163.5" stroke-width="1.35"/>
<circle cx="695.6" cy="163.5" r="1.9" fill="#8a8a8a" stroke="none"/>
<circle cx="698.6" cy="167.2" r="1.6" fill="#8a8a8a" stroke="none"/>
<line x1="688.6" y1="158.7" x2="691.2" y2="157.1" stroke-width="1.2"/>
<line x1="636.1" y1="186.6" x2="641" y2="193.4" stroke-width="1.35"/>
<circle cx="641" cy="193.4" r="1.9" fill="#8a8a8a" stroke="none"/>
<circle cx="641.5" cy="194.5" r="1.6" fill="#8a8a8a" stroke="none"/>
<line x1="635.5" y1="190.9" x2="638.1" y2="189.3" stroke-width="1.2"/>
<line x1="650.2" y1="187.1" x2="655.4" y2="197.3" stroke-width="1.35"/>
<circle cx="655.4" cy="197.3" r="1.9" fill="#8a8a8a" stroke="none"/>
<circle cx="657.6" cy="200.9" r="1.6" fill="#8a8a8a" stroke="none"/>
<line x1="649.7" y1="192.8" x2="652.3" y2="191.2" stroke-width="1.2"/>
<line x1="628.8" y1="204.1" x2="633.8" y2="212.4" stroke-width="1.35"/>
<circle cx="633.8" cy="212.4" r="1.9" fill="#8a8a8a" stroke="none"/>
<circle cx="635.8" cy="215.5" r="1.6" fill="#8a8a8a" stroke="none"/>
<line x1="628.2" y1="209" x2="630.8" y2="207.4" stroke-width="1.2"/>
<circle cx="707.3" cy="155.9" r="1.1" fill="#8a8a8a" stroke="none"/>
<circle cx="711.7" cy="160.2" r="1.1" fill="#8a8a8a" stroke="none"/>
<line x1="652.5" y1="199" x2="652.5" y2="239"/>
<line x1="655.5" y1="199" x2="655.5" y2="239"/>
<line x1="603.5" y1="232.3" x2="603.5" y2="239"/>
<line x1="605.3" y1="232.3" x2="605.3" y2="239"/>
<line x1="608.8" y1="232.3" x2="608.8" y2="239"/>
<line x1="610.6" y1="232.3" x2="610.6" y2="239"/>
<path d="M626.9 221.6 L639.8 221.6 M626 223.8 L639.8 223.8" stroke-width="1"/>
<path d="M634.6 215.5 L637.8 215 L638 224 L634.8 224 Z" fill="#a9a9a9" stroke="#939393" stroke-width="1"/>
<ellipse cx="641.6" cy="220.5" rx="1.9" ry="2.6" fill="#939393" stroke="none"/><ellipse cx="641.6" cy="225.6" rx="1.7" ry="2" fill="#939393" stroke="none"/>
<path d="M655.5 207 L658 212" stroke-width="1"/>
<path d="M535.5 169 L539.5 166.5 L541 172 Z" stroke-width="1"/>
<circle cx="536.5" cy="167.5" r="1.5" fill="#8a8a8a" stroke="none"/>
<ellipse cx="718.3" cy="109.2" rx="2" ry="3.6" fill="#939393" stroke="none"/><ellipse cx="757.6" cy="109.2" rx="2" ry="3.6" fill="#939393" stroke="none"/>
<circle cx="714.8" cy="104" r="1.1" fill="#8a8a8a" stroke="none"/>
<circle cx="714.8" cy="114" r="1.1" fill="#8a8a8a" stroke="none"/>
<circle cx="603.5" cy="81.8" r="1.2" fill="#8a8a8a" stroke="none"/>
<circle cx="638.5" cy="81" r="1.2" fill="#8a8a8a" stroke="none"/>
<circle cx="603.5" cy="116" r="1.2" fill="#8a8a8a" stroke="none"/>
<circle cx="638.5" cy="116" r="1.2" fill="#8a8a8a" stroke="none"/>
<circle cx="603" cy="123.3" r="0.8" fill="#8a8a8a" stroke="none"/>
<circle cx="608" cy="123.3" r="0.8" fill="#8a8a8a" stroke="none"/>
<circle cx="613" cy="123.3" r="0.8" fill="#8a8a8a" stroke="none"/>
<circle cx="618" cy="123.3" r="0.8" fill="#8a8a8a" stroke="none"/>
<circle cx="623" cy="123.3" r="0.8" fill="#8a8a8a" stroke="none"/>
<circle cx="628" cy="123.3" r="0.8" fill="#8a8a8a" stroke="none"/>
<circle cx="633" cy="123.3" r="0.8" fill="#8a8a8a" stroke="none"/>
<circle cx="638" cy="123.3" r="0.8" fill="#8a8a8a" stroke="none"/>
<path d="M582.6 453.5 C580.9 453.6 577.1 454.9 572.6 454.4 C568.1 453.8 561.9 452.4 555.8 450.2 C549.6 448 543.5 443.9 535.7 441 C527.9 438.1 517.7 434.8 508.9 433.1 C500.1 431.4 497 431.3 482.9 430.9 C468.8 430.4 434.1 430.5 424.3 430.4 C417 430.4 411.5 434 411 441 L410.9 458 C411.2 465 417 468.3 424.3 468.3 C434.1 468.1 469.4 467.3 482.9 467.4 C496.4 467.5 498.9 468.2 505.5 469 C512.1 469.8 516.7 470.1 522.3 472 C527.9 473.9 533.4 477.9 539 480.3 C544.6 482.7 550.2 484.6 555.8 486.2 C561.4 487.8 567 489.4 572.6 490 C578.2 490.6 586.5 489.7 589.3 489.6" stroke-width="1.1"/>
<path d="M424 436.8 L458 436.8 C463 436.8 465.3 443 465.3 449.3 C465.3 456 463 461.9 458 461.9 L424 461.9 C418 461.9 415 458 415 453 L415 445 C415 440 418 436.8 424 436.8 Z" stroke-width="1.1"/>
<path d="M458 431 C459 433 458.5 435.5 457 436.8 M458 468 C459 466 458.5 463.5 457 461.9"/>
<path d="M482.1 430.9 C481 432.5 481.5 434.5 483.5 435 C488 438 489.6 443 489.6 449.3 C489.6 456 488 461 483.5 463.5 C481.5 464.5 481 466 482.1 467.4" stroke-width="1.1"/>
<path d="M534.9 441.8 C533.5 443.5 534 445.5 535.5 446.5 C538 449 538.6 453 537.6 458 C536.5 463 533 466.5 528.5 467 C526.5 467.3 525.5 468 525.6 469.5" stroke-width="1.1"/>
<path d="M572.6 454.4 C571.5 456 572 458 573.5 458.5 C578 461 580.6 466 580.6 472 C580.6 478 578 483 573.5 485.5 C572 486.5 571.5 488 572.6 489.6" stroke-width="1.1"/>
<path d="M495.5 461.1 C497.6 461.4 503.8 461.8 508 463 C512.2 464.2 518.5 467.7 520.6 468.6"/>
<path d="M546.6 452.2 C548.8 453 555.7 455.8 560 457 C564.3 458.2 570.5 459 572.6 459.4"/>
<circle cx="411" cy="449.3" r="0.9" fill="#8a8a8a" stroke="none"/>
<path d="M600.9 432.3 C604 423 612 419 623.2 419 C635 419 644 428 646.7 441.3" stroke-width="1.1"/>
<path d="M604 432 C607 426 614 423 623.2 423 C632 423 639 428 643 439 C636 434.5 628 432.5 618 432 C612 431.8 607 431.8 604 432 Z" fill="#a2a2a2" stroke="none"/>
<clipPath id="dome"><path d="M604 432 C607 426 614 423 623.2 423 C632 423 639 428 643 439 C636 434.5 628 432.5 618 432 C612 431.8 607 431.8 604 432 Z"/></clipPath>
<g clip-path="url(#dome)" stroke="#ffffff" stroke-width="1.05" opacity="1"><path d="M569.8 445 L623.2 391.6 L676.6 445"/><path d="M572.5 445 L623.2 394.3 L673.9 445"/><path d="M575.2 445 L623.2 397 L671.2 445"/><path d="M577.9 445 L623.2 399.7 L668.5 445"/><path d="M580.6 445 L623.2 402.4 L665.8 445"/><path d="M583.3 445 L623.2 405.1 L663.1 445"/><path d="M586 445 L623.2 407.8 L660.4 445"/><path d="M588.7 445 L623.2 410.5 L657.7 445"/><path d="M591.4 445 L623.2 413.2 L655 445"/><path d="M594.1 445 L623.2 415.9 L652.3 445"/><path d="M596.8 445 L623.2 418.6 L649.6 445"/><path d="M599.5 445 L623.2 421.3 L646.9 445"/><path d="M602.2 445 L623.2 424 L644.2 445"/><path d="M604.9 445 L623.2 426.7 L641.5 445"/><path d="M607.6 445 L623.2 429.4 L638.8 445"/><path d="M610.3 445 L623.2 432.1 L636.1 445"/><path d="M613 445 L623.2 434.8 L633.4 445"/><path d="M615.7 445 L623.2 437.5 L630.7 445"/><path d="M618.4 445 L623.2 440.2 L628 445"/><path d="M621.1 445 L623.2 442.9 L625.3 445"/></g>
<circle cx="610" cy="423.8" r="0.8" fill="#8a8a8a" stroke="none"/>
<circle cx="623.2" cy="420.5" r="0.8" fill="#8a8a8a" stroke="none"/>
<circle cx="637" cy="425" r="0.8" fill="#8a8a8a" stroke="none"/>
<path d="M650 446.8 L717 446.8 L717 497.5 L660.3 497.5 C662 490 662.6 480 661.6 472.9 C660.5 463 656.5 454 650 449.8 Z" fill="#9b9b9b" stroke="none"/>
<clipPath id="br"><path d="M652 450.5 L716 450.5 L716 492 L661.6 492 C662.5 485 662.6 480 661.6 472.9 C660.5 463 656.5 456 652 450.5 Z"/></clipPath>
<g clip-path="url(#br)" stroke="#ffffff" stroke-width="0.6" opacity="0.55" stroke-dasharray="1.2 0.8"><line x1="598" y1="472" x2="616" y2="448"/><line x1="598" y1="472" x2="616" y2="496"/><line x1="600.6" y1="472" x2="618.6" y2="448"/><line x1="600.6" y1="472" x2="618.6" y2="496"/><line x1="603.2" y1="472" x2="621.2" y2="448"/><line x1="603.2" y1="472" x2="621.2" y2="496"/><line x1="605.8" y1="472" x2="623.8" y2="448"/><line x1="605.8" y1="472" x2="623.8" y2="496"/><line x1="608.4" y1="472" x2="626.4" y2="448"/><line x1="608.4" y1="472" x2="626.4" y2="496"/><line x1="611" y1="472" x2="629" y2="448"/><line x1="611" y1="472" x2="629" y2="496"/><line x1="613.6" y1="472" x2="631.6" y2="448"/><line x1="613.6" y1="472" x2="631.6" y2="496"/><line x1="616.2" y1="472" x2="634.2" y2="448"/><line x1="616.2" y1="472" x2="634.2" y2="496"/><line x1="618.8" y1="472" x2="636.8" y2="448"/><line x1="618.8" y1="472" x2="636.8" y2="496"/><line x1="621.4" y1="472" x2="639.4" y2="448"/><line x1="621.4" y1="472" x2="639.4" y2="496"/><line x1="624" y1="472" x2="642" y2="448"/><line x1="624" y1="472" x2="642" y2="496"/><line x1="626.6" y1="472" x2="644.6" y2="448"/><line x1="626.6" y1="472" x2="644.6" y2="496"/><line x1="629.2" y1="472" x2="647.2" y2="448"/><line x1="629.2" y1="472" x2="647.2" y2="496"/><line x1="631.8" y1="472" x2="649.8" y2="448"/><line x1="631.8" y1="472" x2="649.8" y2="496"/><line x1="634.4" y1="472" x2="652.4" y2="448"/><line x1="634.4" y1="472" x2="652.4" y2="496"/><line x1="637" y1="472" x2="655" y2="448"/><line x1="637" y1="472" x2="655" y2="496"/><line x1="639.6" y1="472" x2="657.6" y2="448"/><line x1="639.6" y1="472" x2="657.6" y2="496"/><line x1="642.2" y1="472" x2="660.2" y2="448"/><line x1="642.2" y1="472" x2="660.2" y2="496"/><line x1="644.8" y1="472" x2="662.8" y2="448"/><line x1="644.8" y1="472" x2="662.8" y2="496"/><line x1="647.4" y1="472" x2="665.4" y2="448"/><line x1="647.4" y1="472" x2="665.4" y2="496"/><line x1="650" y1="472" x2="668" y2="448"/><line x1="650" y1="472" x2="668" y2="496"/><line x1="652.6" y1="472" x2="670.6" y2="448"/><line x1="652.6" y1="472" x2="670.6" y2="496"/><line x1="655.2" y1="472" x2="673.2" y2="448"/><line x1="655.2" y1="472" x2="673.2" y2="496"/><line x1="657.8" y1="472" x2="675.8" y2="448"/><line x1="657.8" y1="472" x2="675.8" y2="496"/><line x1="660.4" y1="472" x2="678.4" y2="448"/><line x1="660.4" y1="472" x2="678.4" y2="496"/><line x1="663" y1="472" x2="681" y2="448"/><line x1="663" y1="472" x2="681" y2="496"/><line x1="665.6" y1="472" x2="683.6" y2="448"/><line x1="665.6" y1="472" x2="683.6" y2="496"/><line x1="668.2" y1="472" x2="686.2" y2="448"/><line x1="668.2" y1="472" x2="686.2" y2="496"/><line x1="670.8" y1="472" x2="688.8" y2="448"/><line x1="670.8" y1="472" x2="688.8" y2="496"/><line x1="673.4" y1="472" x2="691.4" y2="448"/><line x1="673.4" y1="472" x2="691.4" y2="496"/><line x1="676" y1="472" x2="694" y2="448"/><line x1="676" y1="472" x2="694" y2="496"/><line x1="678.6" y1="472" x2="696.6" y2="448"/><line x1="678.6" y1="472" x2="696.6" y2="496"/><line x1="681.2" y1="472" x2="699.2" y2="448"/><line x1="681.2" y1="472" x2="699.2" y2="496"/><line x1="683.8" y1="472" x2="701.8" y2="448"/><line x1="683.8" y1="472" x2="701.8" y2="496"/><line x1="686.4" y1="472" x2="704.4" y2="448"/><line x1="686.4" y1="472" x2="704.4" y2="496"/><line x1="689" y1="472" x2="707" y2="448"/><line x1="689" y1="472" x2="707" y2="496"/><line x1="691.6" y1="472" x2="709.6" y2="448"/><line x1="691.6" y1="472" x2="709.6" y2="496"/><line x1="694.2" y1="472" x2="712.2" y2="448"/><line x1="694.2" y1="472" x2="712.2" y2="496"/><line x1="696.8" y1="472" x2="714.8" y2="448"/><line x1="696.8" y1="472" x2="714.8" y2="496"/><line x1="699.4" y1="472" x2="717.4" y2="448"/><line x1="699.4" y1="472" x2="717.4" y2="496"/><line x1="702" y1="472" x2="720" y2="448"/><line x1="702" y1="472" x2="720" y2="496"/><line x1="704.6" y1="472" x2="722.6" y2="448"/><line x1="704.6" y1="472" x2="722.6" y2="496"/><line x1="707.2" y1="472" x2="725.2" y2="448"/><line x1="707.2" y1="472" x2="725.2" y2="496"/><line x1="709.8" y1="472" x2="727.8" y2="448"/><line x1="709.8" y1="472" x2="727.8" y2="496"/><line x1="712.4" y1="472" x2="730.4" y2="448"/><line x1="712.4" y1="472" x2="730.4" y2="496"/><line x1="715" y1="472" x2="733" y2="448"/><line x1="715" y1="472" x2="733" y2="496"/><line x1="717.6" y1="472" x2="735.6" y2="448"/><line x1="717.6" y1="472" x2="735.6" y2="496"/><line x1="720.2" y1="472" x2="738.2" y2="448"/><line x1="720.2" y1="472" x2="738.2" y2="496"/><line x1="722.8" y1="472" x2="740.8" y2="448"/><line x1="722.8" y1="472" x2="740.8" y2="496"/><line x1="725.4" y1="472" x2="743.4" y2="448"/><line x1="725.4" y1="472" x2="743.4" y2="496"/></g><path d="M667 469 L664 472 L667 475" stroke="#fff" stroke-width="1" opacity="0.9"/><path d="M671 468 L667.5 472 L671 476" stroke="#fff" stroke-width="0.8" opacity="0.7"/><path d="M680.5 469 L677.5 472 L680.5 475" stroke="#fff" stroke-width="1" opacity="0.9"/><path d="M684.5 468 L681 472 L684.5 476" stroke="#fff" stroke-width="0.8" opacity="0.7"/><path d="M693.5 469 L690.5 472 L693.5 475" stroke="#fff" stroke-width="1" opacity="0.9"/><path d="M697.5 468 L694 472 L697.5 476" stroke="#fff" stroke-width="0.8" opacity="0.7"/><path d="M706.5 469 L703.5 472 L706.5 475" stroke="#fff" stroke-width="1" opacity="0.9"/><path d="M710.5 468 L707 472 L710.5 476" stroke="#fff" stroke-width="0.8" opacity="0.7"/>
<path d="M663.8 457.5 Q659.8 472 663.8 486.5" stroke="#959595" stroke-width="3.2" stroke-linecap="round"/>
<path d="M676.8 457.5 Q672.8 472 676.8 486.5" stroke="#959595" stroke-width="3.2" stroke-linecap="round"/>
<path d="M689.8 457.5 Q685.8 472 689.8 486.5" stroke="#959595" stroke-width="3.2" stroke-linecap="round"/>
<path d="M702.8 457.5 Q698.8 472 702.8 486.5" stroke="#959595" stroke-width="3.2" stroke-linecap="round"/>
<path d="M715.3 457.5 Q711.3 472 715.3 486.5" stroke="#959595" stroke-width="3.2" stroke-linecap="round"/>
<circle cx="652.5" cy="447.2" r="1.3" fill="#9b9b9b" stroke="none"/><circle cx="652.5" cy="497.3" r="1.3" fill="#9b9b9b" stroke="none"/>
<circle cx="655.5" cy="447.2" r="1.3" fill="#9b9b9b" stroke="none"/><circle cx="655.5" cy="497.3" r="1.3" fill="#9b9b9b" stroke="none"/>
<circle cx="658.5" cy="447.2" r="1.3" fill="#9b9b9b" stroke="none"/><circle cx="658.5" cy="497.3" r="1.3" fill="#9b9b9b" stroke="none"/>
<circle cx="661.5" cy="447.2" r="1.3" fill="#9b9b9b" stroke="none"/><circle cx="661.5" cy="497.3" r="1.3" fill="#9b9b9b" stroke="none"/>
<circle cx="664.5" cy="447.2" r="1.3" fill="#9b9b9b" stroke="none"/><circle cx="664.5" cy="497.3" r="1.3" fill="#9b9b9b" stroke="none"/>
<circle cx="667.5" cy="447.2" r="1.3" fill="#9b9b9b" stroke="none"/><circle cx="667.5" cy="497.3" r="1.3" fill="#9b9b9b" stroke="none"/>
<circle cx="670.5" cy="447.2" r="1.3" fill="#9b9b9b" stroke="none"/><circle cx="670.5" cy="497.3" r="1.3" fill="#9b9b9b" stroke="none"/>
<circle cx="673.5" cy="447.2" r="1.3" fill="#9b9b9b" stroke="none"/><circle cx="673.5" cy="497.3" r="1.3" fill="#9b9b9b" stroke="none"/>
<circle cx="676.5" cy="447.2" r="1.3" fill="#9b9b9b" stroke="none"/><circle cx="676.5" cy="497.3" r="1.3" fill="#9b9b9b" stroke="none"/>
<circle cx="679.5" cy="447.2" r="1.3" fill="#9b9b9b" stroke="none"/><circle cx="679.5" cy="497.3" r="1.3" fill="#9b9b9b" stroke="none"/>
<circle cx="682.5" cy="447.2" r="1.3" fill="#9b9b9b" stroke="none"/><circle cx="682.5" cy="497.3" r="1.3" fill="#9b9b9b" stroke="none"/>
<circle cx="685.5" cy="447.2" r="1.3" fill="#9b9b9b" stroke="none"/><circle cx="685.5" cy="497.3" r="1.3" fill="#9b9b9b" stroke="none"/>
<circle cx="688.5" cy="447.2" r="1.3" fill="#9b9b9b" stroke="none"/><circle cx="688.5" cy="497.3" r="1.3" fill="#9b9b9b" stroke="none"/>
<circle cx="691.5" cy="447.2" r="1.3" fill="#9b9b9b" stroke="none"/><circle cx="691.5" cy="497.3" r="1.3" fill="#9b9b9b" stroke="none"/>
<circle cx="694.5" cy="447.2" r="1.3" fill="#9b9b9b" stroke="none"/><circle cx="694.5" cy="497.3" r="1.3" fill="#9b9b9b" stroke="none"/>
<circle cx="697.5" cy="447.2" r="1.3" fill="#9b9b9b" stroke="none"/><circle cx="697.5" cy="497.3" r="1.3" fill="#9b9b9b" stroke="none"/>
<circle cx="700.5" cy="447.2" r="1.3" fill="#9b9b9b" stroke="none"/><circle cx="700.5" cy="497.3" r="1.3" fill="#9b9b9b" stroke="none"/>
<circle cx="703.5" cy="447.2" r="1.3" fill="#9b9b9b" stroke="none"/><circle cx="703.5" cy="497.3" r="1.3" fill="#9b9b9b" stroke="none"/>
<circle cx="706.5" cy="447.2" r="1.3" fill="#9b9b9b" stroke="none"/><circle cx="706.5" cy="497.3" r="1.3" fill="#9b9b9b" stroke="none"/>
<circle cx="709.5" cy="447.2" r="1.3" fill="#9b9b9b" stroke="none"/><circle cx="709.5" cy="497.3" r="1.3" fill="#9b9b9b" stroke="none"/>
<circle cx="712.5" cy="447.2" r="1.3" fill="#9b9b9b" stroke="none"/><circle cx="712.5" cy="497.3" r="1.3" fill="#9b9b9b" stroke="none"/>
<circle cx="715.5" cy="447.2" r="1.3" fill="#9b9b9b" stroke="none"/><circle cx="715.5" cy="497.3" r="1.3" fill="#9b9b9b" stroke="none"/>
<rect x="717.5" y="448.2" width="44.7" height="47" fill="#9a9a9a" stroke="none"/>
<rect x="719.3" y="450.6" width="41.1" height="42.5" fill="#ffffff" stroke="none"/>
<rect x="721" y="450.4" width="4.5" height="1.2" fill="#9a9a9a" stroke="none"/>
<rect x="721" y="492.6" width="4.5" height="1.2" fill="#9a9a9a" stroke="none"/>
<rect x="729" y="450.4" width="4.5" height="1.2" fill="#9a9a9a" stroke="none"/>
<rect x="729" y="492.6" width="4.5" height="1.2" fill="#9a9a9a" stroke="none"/>
<rect x="737" y="450.4" width="4.5" height="1.2" fill="#9a9a9a" stroke="none"/>
<rect x="737" y="492.6" width="4.5" height="1.2" fill="#9a9a9a" stroke="none"/>
<rect x="745" y="450.4" width="4.5" height="1.2" fill="#9a9a9a" stroke="none"/>
<rect x="745" y="492.6" width="4.5" height="1.2" fill="#9a9a9a" stroke="none"/>
<rect x="753" y="450.4" width="4.5" height="1.2" fill="#9a9a9a" stroke="none"/>
<rect x="753" y="492.6" width="4.5" height="1.2" fill="#9a9a9a" stroke="none"/>
<rect x="718.8" y="453" width="1.2" height="4.5" fill="#9a9a9a" stroke="none"/>
<rect x="760.2" y="453" width="1.2" height="4.5" fill="#9a9a9a" stroke="none"/>
<rect x="718.8" y="461" width="1.2" height="4.5" fill="#9a9a9a" stroke="none"/>
<rect x="760.2" y="461" width="1.2" height="4.5" fill="#9a9a9a" stroke="none"/>
<rect x="718.8" y="469" width="1.2" height="4.5" fill="#9a9a9a" stroke="none"/>
<rect x="760.2" y="469" width="1.2" height="4.5" fill="#9a9a9a" stroke="none"/>
<rect x="718.8" y="477" width="1.2" height="4.5" fill="#9a9a9a" stroke="none"/>
<rect x="760.2" y="477" width="1.2" height="4.5" fill="#9a9a9a" stroke="none"/>
<rect x="718.8" y="485" width="1.2" height="4.5" fill="#9a9a9a" stroke="none"/>
<rect x="760.2" y="485" width="1.2" height="4.5" fill="#9a9a9a" stroke="none"/>
<rect x="721.1" y="453.4" width="37.4" height="37.4" stroke-width="1"/>
<g stroke="#8e8e8e" stroke-width="1.35"><path d="M721.1 453.4 L739.9 472.1 L758.6 453.4"/><path d="M721.1 490.8 L739.9 472.1 L758.6 490.8"/><path d="M721.1 453.4 L739.9 472.1 L721.1 490.8"/><path d="M758.6 453.4 L739.9 472.1 L758.6 490.8"/><path d="M723.8 453.4 L739.9 469.4 L756 453.4"/><path d="M723.8 490.8 L739.9 474.7 L756 490.8"/><path d="M721.1 455.9 L737.2 472.1 L721.1 488.2"/><path d="M758.6 455.9 L742.5 472.1 L758.6 488.2"/><path d="M726.4 453.4 L739.9 466.9 L753.4 453.4"/><path d="M726.4 490.8 L739.9 477.2 L753.4 490.8"/><path d="M721.1 458.6 L734.6 472.1 L721.1 485.6"/><path d="M758.6 458.6 L745.1 472.1 L758.6 485.6"/><path d="M729 453.4 L739.9 464.2 L750.8 453.4"/><path d="M729 490.8 L739.9 479.9 L750.8 490.8"/><path d="M721.1 461.2 L732.1 472.1 L721.1 482.9"/><path d="M758.6 461.2 L747.6 472.1 L758.6 482.9"/><path d="M731.6 453.4 L739.9 461.7 L748.1 453.4"/><path d="M731.6 490.8 L739.9 482.4 L748.1 490.8"/><path d="M721.1 463.8 L729.5 472.1 L721.1 480.4"/><path d="M758.6 463.8 L750.2 472.1 L758.6 480.4"/><path d="M734.1 453.4 L739.9 459.1 L745.6 453.4"/><path d="M734.1 490.8 L739.9 485.1 L745.6 490.8"/><path d="M721.1 466.4 L726.9 472.1 L721.1 477.8"/><path d="M758.6 466.4 L752.9 472.1 L758.6 477.8"/><path d="M736.8 453.4 L739.9 456.4 L743 453.4"/><path d="M736.8 490.8 L739.9 487.7 L743 490.8"/><path d="M721.1 468.9 L724.2 472.1 L721.1 475.2"/><path d="M758.6 468.9 L755.5 472.1 L758.6 475.2"/><path d="M739.4 453.4 L739.9 453.9 L740.4 453.4"/><path d="M739.4 490.8 L739.9 490.2 L740.4 490.8"/><path d="M721.1 471.6 L721.6 472.1 L721.1 472.6"/><path d="M758.6 471.6 L758.1 472.1 L758.6 472.6"/></g>
<circle cx="718.5" cy="449.5" r="2.2" fill="#939393" stroke="none"/>
<circle cx="761" cy="449.5" r="2.2" fill="#939393" stroke="none"/>
<circle cx="718.5" cy="494.5" r="2.2" fill="#939393" stroke="none"/>
<circle cx="761.5" cy="494.5" r="2.2" fill="#939393" stroke="none"/>
<line x1="724.2" y1="360.7" x2="724.2" y2="448.5"/>
<line x1="726.8" y1="360.7" x2="726.8" y2="448.5"/>
<line x1="752.4" y1="360.7" x2="752.4" y2="438.4"/>
<line x1="754.9" y1="360.7" x2="754.9" y2="438.4"/>
<path d="M724.2 360.7 L726.8 360.7 M752.4 360.7 L754.9 360.7"/>
<line x1="726.8" y1="380.3" x2="752.4" y2="380.3" stroke-width="1.6"/>
<line x1="726.8" y1="382.2" x2="752.4" y2="382.2" stroke-width="1.6"/>
<line x1="726.8" y1="386" x2="752.4" y2="386" stroke-width="1.6"/>
<line x1="726.8" y1="387.9" x2="752.4" y2="387.9" stroke-width="1.6"/>
<line x1="726.8" y1="396" x2="752.4" y2="396" stroke-width="1.6"/>
<line x1="726.8" y1="398" x2="752.4" y2="398" stroke-width="1.6"/>
<line x1="726.8" y1="410.6" x2="752.4" y2="410.6"/>
<line x1="726.8" y1="412.5" x2="752.4" y2="412.5"/>
<line x1="726.8" y1="427.7" x2="752.4" y2="427.7"/>
<line x1="726.8" y1="429.5" x2="752.4" y2="429.5"/>
<path d="M724.2 361 A10.2 12 0 0 0 724.2 385"/>
<path d="M724.2 362.6 A8.6 10.4 0 0 0 724.2 383.4"/>
<path d="M754.9 361 A10.2 12 0 0 1 754.9 385"/>
<path d="M754.9 362.6 A8.6 10.4 0 0 1 754.9 383.4"/>
<path d="M724.2 366.5 A10.2 9.5 0 0 0 724.2 385.5"/>
<path d="M724.2 368.1 A8.6 7.9 0 0 0 724.2 383.9"/>
<path d="M754.9 366.5 A10.2 9.5 0 0 1 754.9 385.5"/>
<path d="M754.9 368.1 A8.6 7.9 0 0 1 754.9 383.9"/>
<path d="M724.2 375.5 A10.2 8 0 0 0 724.2 391.5"/>
<path d="M724.2 377.1 A8.6 6.4 0 0 0 724.2 389.9"/>
<path d="M754.9 375.5 A10.2 8 0 0 1 754.9 391.5"/>
<path d="M754.9 377.1 A8.6 6.4 0 0 1 754.9 389.9"/>
<path d="M724.2 391.2 A10.2 7.3 0 0 0 724.2 405.8"/>
<path d="M724.2 392.8 A8.6 5.7 0 0 0 724.2 404.2"/>
<path d="M754.9 391.2 A10.2 7.3 0 0 1 754.9 405.8"/>
<path d="M754.9 392.8 A8.6 5.7 0 0 1 754.9 404.2"/>
<path d="M724.2 411.4 A10.2 5.6 0 0 0 724.2 422.6"/>
<path d="M724.2 413 A8.6 4 0 0 0 724.2 421"/>
<path d="M754.9 411.4 A10.2 5.6 0 0 1 754.9 422.6"/>
<path d="M754.9 413 A8.6 4 0 0 1 754.9 421"/>
<path d="M724.2 425 A10.2 2.8 0 0 0 724.2 430.6"/>
<path d="M724.2 426.6 A8.6 1.2 0 0 0 724.2 429"/>
<path d="M754.9 425 A10.2 2.8 0 0 1 754.9 430.6"/>
<path d="M754.9 426.6 A8.6 1.2 0 0 1 754.9 429"/>
<line x1="726.8" y1="448.5" x2="752.4" y2="448.5" stroke-width="1.1"/>
<line x1="726.8" y1="446.5" x2="752.4" y2="446.5"/>
<path d="M748.3 443.8 C748 441 749.5 439.6 751.5 439.6 L763.9 438.5 C767 438.5 769.5 440 770.5 442.5 C772 445 772.3 449 772.1 453.9 C771.8 458 770 461 766.6 461.7 C764 462 762.5 460.5 760 458.5 L753.8 451.6 C751 449 749 446.5 748.3 443.8 Z" stroke-width="1.2" fill="#fff"/>
<path d="M750.6 444.2 C753 448 758 454 762.9 457.5 C765 459 767.5 459.5 768.4 458 C770 455 770 451 769.4 448.3 C768.5 445 767.5 442.5 765.7 440.6" stroke-width="1.1"/>
<path d="M765 439 L768.5 439.8 L771 444.5 L768.2 445.5 L765.5 442.5 Z" fill="#979797" stroke="none"/>
<path d="M755 450.2 L758 449.8 L758.6 453.3 L761.6 453.4 L762.2 455.6 L764.8 454.6 L767.6 456.4 L767.2 458.6 L762.6 458.2 Z" fill="#979797" stroke="none"/>
<circle cx="751.5" cy="444.5" r="1.1" fill="#8a8a8a" stroke="none"/>
<line x1="715.2" y1="497" x2="715.2" y2="600"/>
<line x1="717.2" y1="497" x2="717.2" y2="600"/>
<line x1="722" y1="497" x2="722" y2="600"/>
<line x1="724.1" y1="497" x2="724.1" y2="600"/>
<line x1="755.1" y1="497" x2="755.1" y2="600"/>
<line x1="757.2" y1="497" x2="757.2" y2="600"/>
<line x1="761.3" y1="497" x2="761.3" y2="600"/>
<line x1="763.4" y1="497" x2="763.4" y2="600"/>
<rect x="720.5" y="509.2" width="38.5" height="3" fill="#939393" stroke="none"/>
<rect x="723" y="510.2" width="3" height="1" fill="#ffffff" stroke="none"/>
<rect x="753" y="510.2" width="3" height="1" fill="#ffffff" stroke="none"/>
<rect x="720.5" y="526.4" width="38.5" height="3" fill="#939393" stroke="none"/>
<rect x="723" y="527.4" width="3" height="1" fill="#ffffff" stroke="none"/>
<rect x="753" y="527.4" width="3" height="1" fill="#ffffff" stroke="none"/>
<rect x="720.5" y="542.9" width="38.5" height="3" fill="#939393" stroke="none"/>
<rect x="723" y="543.9" width="3" height="1" fill="#ffffff" stroke="none"/>
<rect x="753" y="543.9" width="3" height="1" fill="#ffffff" stroke="none"/>
<rect x="720.5" y="560.1" width="38.5" height="3" fill="#939393" stroke="none"/>
<rect x="723" y="561.1" width="3" height="1" fill="#ffffff" stroke="none"/>
<rect x="753" y="561.1" width="3" height="1" fill="#ffffff" stroke="none"/>
<rect x="720.5" y="576.7" width="38.5" height="3" fill="#939393" stroke="none"/>
<rect x="723" y="577.7" width="3" height="1" fill="#ffffff" stroke="none"/>
<rect x="753" y="577.7" width="3" height="1" fill="#ffffff" stroke="none"/>
<rect x="720.5" y="593.9" width="38.5" height="3" fill="#939393" stroke="none"/>
<rect x="723" y="594.9" width="3" height="1" fill="#ffffff" stroke="none"/>
<rect x="753" y="594.9" width="3" height="1" fill="#ffffff" stroke="none"/>
<line x1="715.2" y1="515.5" x2="724.1" y2="515.5" stroke-width="1.2"/>
<line x1="755.1" y1="515.5" x2="763.4" y2="515.5" stroke-width="1.2"/>
<line x1="715.2" y1="534.1" x2="724.1" y2="534.1" stroke-width="1.2"/>
<line x1="755.1" y1="534.1" x2="763.4" y2="534.1" stroke-width="1.2"/>
<line x1="715.2" y1="553.4" x2="724.1" y2="553.4" stroke-width="1.2"/>
<line x1="755.1" y1="553.4" x2="763.4" y2="553.4" stroke-width="1.2"/>
<line x1="715.2" y1="572" x2="724.1" y2="572" stroke-width="1.2"/>
<line x1="755.1" y1="572" x2="763.4" y2="572" stroke-width="1.2"/>
<line x1="715.2" y1="590.5" x2="724.1" y2="590.5" stroke-width="1.2"/>
<line x1="755.1" y1="590.5" x2="763.4" y2="590.5" stroke-width="1.2"/>
<path d="M727.5 497 L722.7 509 M751.5 497 L756.2 509" stroke-width="1.1"/>
<circle cx="727.5" cy="498" r="1.8" fill="#8a8a8a" stroke="none"/>
<circle cx="751.5" cy="498" r="1.8" fill="#8a8a8a" stroke="none"/>
<path d="M777.5 623 C786 622.5 790.4 628 790.4 634.2 C790.4 640.5 786 646 777.5 645.5" stroke-width="1.1"/>
<path d="M777 625.3 C784.5 625 788.2 629.5 788.2 634.2 C788.2 639 784.5 643.5 777 643.2"/>
<rect x="723" y="662" width="32.8" height="22.8" fill="#9c9c9c" stroke="none"/>
<rect x="726.9" y="674.7" width="8.2" height="3.5" fill="#ffffff" stroke="none"/>
<rect x="744.8" y="674.7" width="5.4" height="1.6" fill="#ffffff" stroke="none"/>
<rect x="751" y="675" width="1.6" height="2.2" fill="#ffffff" stroke="none"/>
<rect x="753.2" y="674.7" width="1.5" height="2.4" fill="#ffffff" stroke="none"/>
<rect x="726.9" y="681.7" width="9" height="1.6" fill="#ffffff" stroke="none"/>
<rect x="746" y="681" width="6" height="1.9" fill="#ffffff" stroke="none"/>
<rect x="724.2" y="674.8" width="1.2" height="3" fill="#ffffff" stroke="none"/>
<rect x="724.2" y="681.8" width="1.2" height="1.8" fill="#ffffff" stroke="none"/>
<rect x="753.3" y="681.6" width="1.4" height="1.6" fill="#ffffff" stroke="none"/>
<path d="M736.2 675.3 L742.8 677.6 L742.8 679 L736.2 679 Z" fill="#fff" stroke="none"/>
<ellipse cx="741.3" cy="682.7" rx="2.4" ry="1.1" fill="#fff" stroke="none"/>
<path d="M739 684.8 C740 686.5 743 686.5 744 684.8" fill="#9c9c9c" stroke="none"/>
<path d="M705 616.5 C704 616.5 701.2 616.6 698.7 616.5 C696.2 616.4 693.7 615.8 689.9 615.9 C686.1 616 680.8 616.3 676 617.1 C671.2 617.9 667.4 618.3 660.9 620.9 C654.4 623.5 644.5 628.9 636.9 632.9 C629.3 636.9 623.8 640.4 615.4 644.9 C607 649.4 591.2 657.6 586.4 660.1 C582 663 579.5 667 580 672 C581 680 583 686 589 691 C592.5 694 596 695 598.4 694.8 C600.2 693.9 603.5 692.7 609.1 689.7 C614.7 686.8 624.2 681.2 631.8 677.1 C639.4 673 647.5 668.7 654.5 665.1 C661.5 661.5 667.6 657.8 673.5 655.7 C679.4 653.6 684.6 653.1 689.9 652.5 C695.1 651.9 702.5 652 705 651.9" stroke-width="1.1" fill="#fff"/>
<g transform="translate(607.2 670) rotate(-27)"><path d="M-15.6 -11.3 L17 -11.3 C22.5 -11.3 26.1 -5 26.1 0 C26.1 5 22.5 11.3 17 11.3 L-15.6 11.3 C-20.6 11.3 -23.6 7.5 -23.6 3 L-23.6 -3 C-23.6 -7.5 -20.6 -11.3 -15.6 -11.3 Z" stroke-width="1.1"/></g>
<path d="M615.4 644.9 C614.5 646.5 615 648 616.7 649.3 M630.5 676.5 C631.5 675 632.5 673.5 630.6 672.7"/>
<path d="M636.9 632.9 C636 634.5 636.5 636.5 639 637.5 C644 639.5 647.5 645 648 651 C648.5 657 647 661 653.5 664.5" stroke-width="1.1"/>
<path d="M689.3 616 C688 618 689 620.5 691 620.8 C695.5 623 697.5 628 697.5 634 C697.5 640 695 645 691 646.5 C689 647.5 688.5 650 689.9 652.5" stroke-width="1.1"/>
<path d="M663.4 654.4 C665.5 653.5 671.7 650.5 676 649.3 C680.3 648.1 687.1 647.7 689.3 647.4"/>
<circle cx="598.4" cy="695.3" r="0.9" fill="#8a8a8a" stroke="none"/>
<path d="M611.4 431.8 C605.6 432.1 600 434.3 595.6 437.1 C591.2 439.8 587.4 444 585 448.2 C582.5 452.5 581.4 457.9 581 462.8 C580.5 467.6 581 472.7 582.4 477.4 C583.7 482 586.3 486.8 589 490.6 C591.6 494.3 594 496.7 598.2 499.8 C602.3 502.8 608.6 506.9 614.1 509.1 C619.6 511.2 625.7 512.7 631.2 513 C636.7 513.2 642.6 512.1 647.1 510.4 C651.5 508.6 655.1 506 657.7 502.5 C660.2 498.9 661.6 493.6 662.2 489.2 C662.9 484.7 662.6 481 661.6 476 C660.6 470.9 658.9 463.9 656.2 458.9 C653.6 453.8 650.1 449.6 645.8 445.7 C641.4 441.7 635.6 437.4 629.9 435.1 C624.1 432.7 617.1 431.4 611.4 431.8Z" stroke-width="1.1" fill="#fff"/>
<line x1="596.7" y1="497" x2="647.2" y2="446.8" stroke="#8a8a8a" stroke-width="1.6"/>
<rect x="588.9" y="442.9" width="2.7" height="2.7" fill="#8c8c8c" stroke="none"/>
<rect x="595.5" y="442.9" width="2.7" height="2.7" fill="#8c8c8c" stroke="none"/>
<rect x="633.8" y="442.9" width="2.7" height="2.7" fill="#8c8c8c" stroke="none"/>
<rect x="637.8" y="446.2" width="2.7" height="2.7" fill="#8c8c8c" stroke="none"/>
<rect x="645" y="453.5" width="2.7" height="2.7" fill="#8c8c8c" stroke="none"/>
<rect x="648.3" y="456.8" width="2.7" height="2.7" fill="#8c8c8c" stroke="none"/>
<rect x="591.5" y="485.2" width="2.7" height="2.7" fill="#8c8c8c" stroke="none"/>
<rect x="595.5" y="488.5" width="2.7" height="2.7" fill="#8c8c8c" stroke="none"/>
<rect x="602.1" y="495.8" width="2.7" height="2.7" fill="#8c8c8c" stroke="none"/>
<rect x="605.4" y="499.1" width="2.7" height="2.7" fill="#8c8c8c" stroke="none"/>
<rect x="644.4" y="499.1" width="2.7" height="2.7" fill="#8c8c8c" stroke="none"/>
<rect x="651" y="499.1" width="2.7" height="2.7" fill="#8c8c8c" stroke="none"/>
<path d="M593.7 497.2 l2.8 -2.8 l2.8 2.8 l-2.8 2.8 Z" fill="#8c8c8c" stroke="none"/>
<path d="M602 488.6 l2.7 -2.7 l2.7 2.7 l-2.7 2.7 Z" fill="#8c8c8c" stroke="none"/>
<path d="M618.6 472.1 l2.6 -2.6 l2.6 2.6 l-2.6 2.6 Z" fill="#8c8c8c" stroke="none"/>
<path d="M633.8 456.2 l2.7 -2.7 l2.7 2.7 l-2.7 2.7 Z" fill="#8c8c8c" stroke="none"/>
<path d="M644.3 447 l2.8 -2.8 l2.8 2.8 l-2.8 2.8 Z" fill="#8c8c8c" stroke="none"/>
<path d="M729.5 593.6 C723.8 593.9 718.1 596.2 713.8 598.9 C709.4 601.7 705.6 605.8 703.1 610.1 C700.7 614.4 699.6 619.8 699.1 624.6 C698.7 629.5 699.2 634.6 700.5 639.2 C701.9 643.8 704.5 648.7 707.1 652.4 C709.8 656.1 712.2 658.5 716.4 661.6 C720.5 664.7 726.8 668.7 732.2 670.9 C737.8 673.1 743.9 674.6 749.4 674.8 C754.9 675 760.8 674 765.2 672.2 C769.7 670.5 773.3 667.8 775.9 664.3 C778.4 660.8 779.8 655.4 780.4 651 C781.1 646.6 780.8 642.9 779.8 637.8 C778.8 632.8 777.1 625.8 774.4 620.7 C771.8 615.7 768.3 611.5 763.9 607.5 C759.5 603.5 753.8 599.2 748 596.9 C742.3 594.6 735.3 593.3 729.5 593.6Z" stroke-width="1.1" fill="#fff"/>
<line x1="714.9" y1="658.8" x2="765.4" y2="608.6" stroke="#8a8a8a" stroke-width="1.6"/>
<rect x="707.1" y="604.8" width="2.7" height="2.7" fill="#8c8c8c" stroke="none"/>
<rect x="713.7" y="604.8" width="2.7" height="2.7" fill="#8c8c8c" stroke="none"/>
<rect x="752" y="604.8" width="2.7" height="2.7" fill="#8c8c8c" stroke="none"/>
<rect x="756" y="608.1" width="2.7" height="2.7" fill="#8c8c8c" stroke="none"/>
<rect x="763.2" y="615.4" width="2.7" height="2.7" fill="#8c8c8c" stroke="none"/>
<rect x="766.5" y="618.6" width="2.7" height="2.7" fill="#8c8c8c" stroke="none"/>
<rect x="709.7" y="647.1" width="2.7" height="2.7" fill="#8c8c8c" stroke="none"/>
<rect x="713.7" y="650.4" width="2.7" height="2.7" fill="#8c8c8c" stroke="none"/>
<rect x="720.3" y="657.6" width="2.7" height="2.7" fill="#8c8c8c" stroke="none"/>
<rect x="723.6" y="661" width="2.7" height="2.7" fill="#8c8c8c" stroke="none"/>
<rect x="762.6" y="661" width="2.7" height="2.7" fill="#8c8c8c" stroke="none"/>
<rect x="769.2" y="661" width="2.7" height="2.7" fill="#8c8c8c" stroke="none"/>
<path d="M711.9 659 l2.8 -2.8 l2.8 2.8 l-2.8 2.8 Z" fill="#8c8c8c" stroke="none"/>
<path d="M720.2 650.4 l2.7 -2.7 l2.7 2.7 l-2.7 2.7 Z" fill="#8c8c8c" stroke="none"/>
<path d="M736.8 633.9 l2.6 -2.6 l2.6 2.6 l-2.6 2.6 Z" fill="#8c8c8c" stroke="none"/>
<path d="M751.9 618 l2.7 -2.7 l2.7 2.7 l-2.7 2.7 Z" fill="#8c8c8c" stroke="none"/>
<path d="M762.5 608.8 l2.8 -2.8 l2.8 2.8 l-2.8 2.8 Z" fill="#8c8c8c" stroke="none"/>
</g>
</svg>
</body></html>
